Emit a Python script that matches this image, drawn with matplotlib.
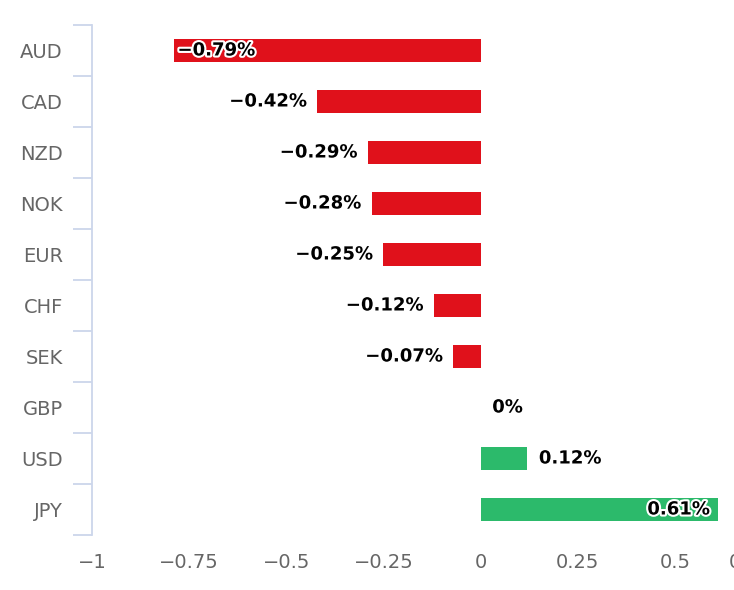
import matplotlib
matplotlib.use('Agg')
import matplotlib.pyplot as plt
import matplotlib.patheffects as pe

currencies = ['AUD', 'CAD', 'NZD', 'NOK', 'EUR', 'CHF', 'SEK', 'GBP', 'USD', 'JPY']
changes = [-0.79, -0.42, -0.29, -0.28, -0.25, -0.12, -0.07, 0, 0.12, 0.61]
xticks = [-1, -0.75, -0.5, -0.25, 0, 0.25, 0.5, 0.75]

red = '#e0111b'
green = '#2cba6b'
axcol = '#ccd6eb'
txtcol = '#666666'

plt.rcParams.update({'font.family': 'DejaVu Sans'})

fig = plt.figure(figsize=(7.34, 5.90), dpi=100)
ax = fig.add_axes([92/734, 55/590, 680/734, 510/590])

ypos = list(range(len(currencies)))
colors = [red if v < 0 else green for v in changes]
ax.barh(ypos, changes, height=0.45, color=colors)

ax.set_xlim(-1, 0.75)
ax.set_ylim(len(currencies) - 0.5, -0.5)

# spines
for s in ['top', 'right', 'bottom']:
    ax.spines[s].set_visible(False)
ax.spines['left'].set_color(axcol)
ax.spines['left'].set_linewidth(1.3)

# y ticks: labels on categories, tick marks on boundaries
ax.set_yticks(ypos)
ax.set_yticklabels(currencies)
ax.set_yticks([i - 0.5 for i in range(len(currencies) + 1)], minor=True)
ax.tick_params(axis='y', which='major', length=0, pad=21, labelsize=14, labelcolor=txtcol)
ax.tick_params(axis='y', which='minor', length=14, width=1.3, color=axcol)

ax.set_xticks(xticks)
ax.set_xticklabels([f'{t:g}'.replace('-', '\u2212') for t in xticks])
ax.tick_params(axis='x', length=0, pad=13, labelsize=14, labelcolor=txtcol)
ax.get_xticklabels()[-1].set_horizontalalignment('right')

# data labels
outline = [pe.withStroke(linewidth=3, foreground='white')]
for y, v in zip(ypos, changes):
    lab = f'{v:g}%'.replace('-', '\u2212')
    if v < 0:
        inside = (v - (-1)) < 0.25
        if inside:
            ax.text(v + 0.01, y, lab, ha='left', va='center')
        else:
            ax.text(v - 0.027, y, lab, ha='right', va='center')
    else:
        inside = (0.75 - v) < 0.25
        if inside:
            ax.text(v - 0.02, y, lab, ha='right', va='center')
        else:
            ax.text(v + 0.03, y, lab, ha='left', va='center')
for t in ax.texts:
    t.set_fontsize(13)
    t.set_fontweight('bold')
    t.set_color('black')
    t.set_path_effects(outline)

fig.savefig('out.png', dpi=100)
